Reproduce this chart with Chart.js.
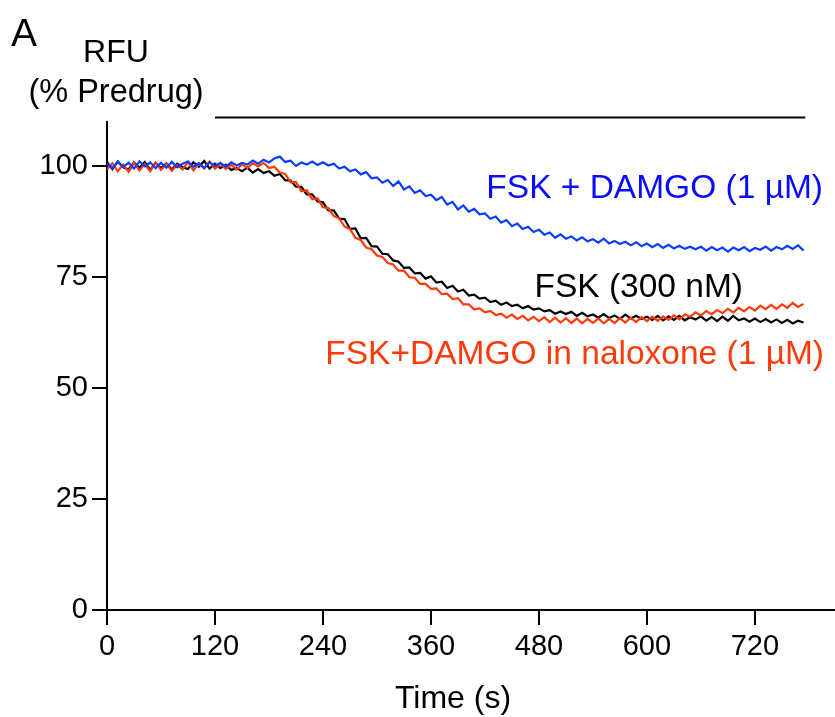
<!DOCTYPE html>
<html>
<head>
<meta charset="utf-8">
<script src="https://cdn.jsdelivr.net/npm/chart.js@4.4.1/dist/chart.umd.min.js"></script>
<style>
  html, body { margin: 0; padding: 0; background: #fff; }
  canvas { display: block; }
</style>
</head>
<body>
<canvas id="c" width="835" height="717"></canvas>
<script>
// ---- data (time in s, values in % predrug) ----
const sampleStep = 6;      // s between samples
const sampleCount = 130;   // samples 0 .. 774 s
const times = Array.from({ length: sampleCount }, (_, i) => i * sampleStep);

const fskDamgo = [
  100.7, 99.6, 101.0, 99.9, 100.8, 99.5, 101.1, 100.0, 100.9, 99.6,
  100.8, 99.7, 101.0, 99.8, 100.6, 101.1, 99.9, 100.7, 99.6, 100.9,
  100.1, 100.8, 99.9, 100.9, 100.2, 100.8, 100.4, 101.3, 100.6, 101.5,
  100.9, 101.8, 102.2, 101.0, 101.3, 100.1, 100.9, 100.4, 101.1, 100.3,
  100.9, 100.2, 100.6, 99.5, 99.9, 98.9, 99.3, 98.2, 98.7, 97.3,
  97.5, 96.3, 96.9, 95.6, 96.6, 94.8, 95.5, 94.0, 94.6, 93.3,
  93.6, 92.4, 93.1, 91.4, 92.0, 90.3, 91.2, 89.8, 90.4, 89.2,
  89.4, 88.2, 88.7, 87.3, 87.9, 86.5, 87.1, 85.9, 86.4, 85.2,
  85.7, 84.6, 85.1, 83.9, 84.7, 83.7, 84.2, 83.3, 84.0, 83.1,
  83.6, 82.8, 83.7, 82.6, 83.2, 82.5, 83.0, 82.2, 82.9, 82.0,
  82.6, 81.8, 82.5, 81.6, 82.3, 81.5, 82.1, 81.4, 81.9, 81.3,
  81.9, 81.0, 81.8, 81.1, 81.7, 80.8, 81.7, 81.1, 81.8, 80.9,
  81.6, 81.2, 81.9, 81.0, 81.8, 81.3, 82.1, 81.4, 82.2, 81.0
];

const fskOnly = [
  101.0, 99.4, 101.1, 99.8, 99.3, 100.9, 99.7, 101.0, 99.2, 100.8,
  99.6, 100.7, 99.3, 100.6, 99.8, 99.4, 100.9, 99.9, 101.2, 99.5,
  100.6, 99.6, 100.4, 99.2, 99.6, 98.9, 99.7, 98.6, 99.4, 98.5,
  98.9, 97.9, 98.3, 96.9, 96.8, 95.4, 95.4, 93.7, 93.7, 92.1,
  91.9, 90.1, 90.1, 88.2, 88.1, 85.9, 86.0, 83.8, 83.9, 82.0,
  81.9, 80.3, 80.2, 78.8, 78.5, 77.1, 77.2, 75.9, 76.0, 74.7,
  75.2, 73.8, 74.0, 72.6, 73.1, 71.8, 72.2, 70.9, 71.1, 70.2,
  70.4, 69.4, 69.7, 68.8, 69.3, 68.5, 68.8, 68.0, 68.5, 67.7,
  68.0, 67.3, 67.6, 66.8, 67.3, 66.7, 67.2, 66.3, 67.0, 66.2,
  66.6, 65.9, 66.7, 65.8, 66.4, 65.6, 66.6, 65.7, 66.3, 65.6,
  66.1, 65.4, 66.3, 65.3, 66.2, 65.4, 66.3, 65.3, 66.0, 65.5,
  66.2, 65.2, 66.0, 65.1, 66.1, 65.2, 66.3, 65.3, 65.7, 65.0,
  65.7, 64.9, 65.6, 64.8, 65.5, 64.7, 65.4, 64.6, 65.2, 64.8
];

const fskDamgoNaloxone = [
  99.3, 100.7, 98.9, 100.4, 98.8, 100.8, 99.1, 100.5, 98.9, 100.9,
  99.2, 100.6, 99.0, 100.3, 99.3, 101.0, 99.1, 100.6, 99.6, 101.1,
  99.5, 100.6, 99.4, 100.4, 99.3, 100.5, 99.6, 100.7, 100.0, 100.8,
  99.6, 99.9, 98.6, 98.3, 96.4, 96.5, 94.4, 94.6, 92.6, 92.8,
  90.8, 90.6, 88.8, 88.3, 86.4, 85.9, 83.9, 83.4, 81.7, 81.3,
  79.9, 79.6, 78.2, 77.9, 76.5, 76.5, 75.0, 74.9, 73.5, 73.5,
  72.4, 72.5, 71.2, 71.3, 70.1, 70.3, 68.9, 68.9, 67.8, 68.0,
  67.1, 67.4, 66.5, 66.8, 65.9, 66.6, 65.6, 66.3, 65.3, 66.1,
  65.1, 66.0, 64.9, 65.9, 64.8, 65.8, 64.7, 65.7, 64.6, 65.6,
  64.7, 65.7, 64.6, 65.6, 64.7, 65.8, 64.8, 65.9, 64.9, 66.0,
  65.1, 66.1, 65.2, 66.2, 65.4, 66.4, 65.5, 66.6, 66.1, 67.1,
  66.4, 67.4, 66.7, 67.6, 66.9, 67.9, 67.1, 68.1, 67.3, 68.3,
  67.5, 68.6, 67.8, 68.8, 67.9, 68.9, 68.1, 69.2, 68.3, 69.0
];

// drug application bar (start s, end s) drawn above the plot at this level
const drugBar = [120, 776];
const drugBarLevel = 111;

const xTicks = [0, 120, 240, 360, 480, 600, 720];
const yTicks = [0, 25, 50, 75, 100];

const seriesLabels = ['FSK + DAMGO (1 µM)', 'FSK (300 nM)', 'FSK+DAMGO in naloxone (1 µM)'];

// ---- chart ----
const FONT = '"Liberation Sans", Arial, Helvetica, sans-serif';
const toXY = vals => times.map((t, i) => ({ x: t, y: vals[i] }));

const textPlugin = {
  id: 'texts',
  afterDraw(chart) {
    const ctx = chart.ctx;
    ctx.save();
    ctx.textBaseline = 'alphabetic';
    const put = (txt, x, y, size, color, align) => {
      ctx.font = size + 'px ' + FONT;
      ctx.fillStyle = color;
      ctx.textAlign = align;
      ctx.fillText(txt, x, y);
    };
    put('A', 11, 46, 39, '#000', 'left');
    put('RFU', 116, 62, 32, '#000', 'center');
    put('(% Predrug)', 116, 102, 32.5, '#000', 'center');
    put('Time (s)', 453, 708, 32, '#000', 'center');
    put(seriesLabels[0], 823, 198, 33.5, '#0a0aff', 'right');
    put(seriesLabels[1], 743, 297, 33.5, '#000', 'right');
    put(seriesLabels[2], 824, 364, 33.5, '#ff3a0a', 'right');
    ctx.restore();
  }
};

const tickFont = { family: FONT, size: 29 };

new Chart(document.getElementById('c'), {
  type: 'line',
  data: {
    datasets: [
      { label: seriesLabels[0], data: toXY(fskDamgo), borderColor: '#0a3cff', borderWidth: 2.2, pointRadius: 0, tension: 0 },
      { label: seriesLabels[2], data: toXY(fskDamgoNaloxone), borderColor: '#ff3a0a', borderWidth: 2.2, pointRadius: 0, tension: 0 },
      { label: seriesLabels[1], data: toXY(fskOnly), borderColor: '#000000', borderWidth: 2.2, pointRadius: 0, tension: 0 },
      { label: 'drug', data: drugBar.map(t => ({ x: t, y: drugBarLevel })), borderColor: '#000000', borderWidth: 2, pointRadius: 0, clip: false }
    ]
  },
  options: {
    responsive: false,
    animation: false,
    devicePixelRatio: 1,
    layout: { padding: { top: 122, left: 0, right: 0, bottom: 0 } },
    plugins: { legend: { display: false }, tooltip: { enabled: false } },
    scales: {
      x: {
        type: 'linear', min: 0, max: 809,
        afterFit(s) { s.height = 107; },
        afterBuildTicks(s) { s.ticks = xTicks.map(v => ({ value: v })); },
        ticks: { font: tickFont, color: '#000', padding: 5, maxRotation: 0, autoSkip: false, includeBounds: false },
        grid: { drawOnChartArea: false, drawTicks: true, tickLength: 15, lineWidth: 2, color: '#000' },
        border: { display: true, color: '#000', width: 2 }
      },
      y: {
        type: 'linear', min: 0, max: 110,
        afterFit(s) { s.width = 107; },
        afterBuildTicks(s) { s.ticks = yTicks.map(v => ({ value: v })); },
        ticks: { font: tickFont, color: '#000', padding: 4, includeBounds: false },
        grid: { drawOnChartArea: false, drawTicks: true, tickLength: 15, lineWidth: 2, color: '#000' },
        border: { display: true, color: '#000', width: 2 }
      }
    }
  },
  plugins: [textPlugin]
});
</script>
</body>
</html>
